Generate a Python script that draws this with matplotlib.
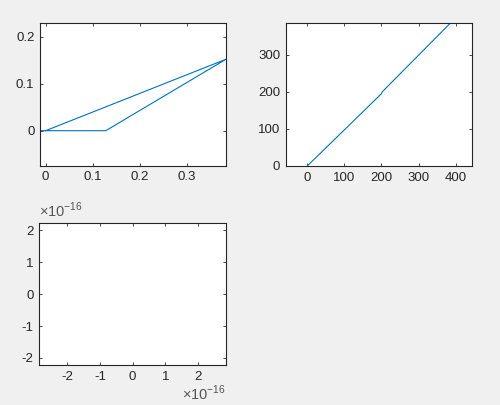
import numpy as np
import matplotlib.pyplot as plt

# panel 1: polyline
x1 = [-0.012, 0.128, 0.384, 0.0]
y1 = [0.0, 0.0, 0.152, 0.0]
xt1 = [0, 0.1, 0.2, 0.3]
yt1 = [0, 0.1, 0.2]

# panel 2: near-diagonal line with a small kink at 200
x2 = [0, 200, 202, 385]
y2 = [0, 195, 200, 385]
xt2 = [0, 100, 200, 300, 400]
yt2 = [0, 100, 200, 300]

# panel 3: empty, limits of +/- eps
t3 = [-2, -1, 0, 1, 2]
t3_labels = ['-2', '-1', '0', '1', '2']
scale3 = 1e-16

plt.rcParams['font.family'] = ['Liberation Sans', 'DejaVu Sans']
plt.rcParams['font.size'] = 9.5
plt.rcParams['axes.unicode_minus'] = False
plt.rcParams['mathtext.fontset'] = 'custom'
plt.rcParams['mathtext.rm'] = 'Liberation Sans'

dark = '#262626'
blue = '#0072BD'

fig = plt.figure(figsize=(5.0, 4.05), dpi=100, facecolor='#f0f0f0')
W, H = 500.0, 405.0

def add_ax(l, r, t, b):
    return fig.add_axes([l / W, 1 - b / H, (r - l) / W, (b - t) / H])

def style(ax):
    ax.set_facecolor('white')
    for s in ax.spines.values():
        s.set_color(dark)
        s.set_linewidth(0.8)
    ax.tick_params(direction='in', length=2.2, width=0.6, colors=dark,
                   top=True, right=True, pad=4, labelsize=9.5)

ax = add_ax(40, 226, 23.3, 165.7)
ax.plot(x1, y1, color=blue, lw=0.8)
ax.set_xlim(-0.012, 0.384)
ax.set_ylim(-0.0745, 0.2285)
ax.set_xticks(xt1)
ax.set_yticks(yt1)
ax.set_xticklabels(['0', '0.1', '0.2', '0.3'])
ax.set_yticklabels(['0', '0.1', '0.2'])
style(ax)

ax = add_ax(285.7, 472.3, 23.3, 166)
ax.plot(x2, y2, color=blue, lw=0.8)
ax.set_xlim(-58, 444.7)
ax.set_ylim(0, 385)
ax.set_xticks(xt2)
ax.set_yticks(yt2)
style(ax)

ax = add_ax(39.3, 226, 223.3, 365)
ax.set_xlim(-2.86e-16, 2.86e-16)
ax.set_ylim(-2.22e-16, 2.22e-16)
ax.set_xticks(np.array(t3) * scale3)
ax.set_yticks(np.array(t3) * scale3)
ax.set_xticklabels(t3_labels)
ax.set_yticklabels(t3_labels)
style(ax)
ax.text(0.0, 1.02, r'$\times10^{-16}$', transform=ax.transAxes,
        ha='left', va='bottom', fontsize=10.5, color='#555555')
ax.text(1.0, -0.13, r'$\times10^{-16}$', transform=ax.transAxes,
        ha='right', va='top', fontsize=10.5, color='#555555')

fig.savefig('out.png', dpi=100, facecolor=fig.get_facecolor())
